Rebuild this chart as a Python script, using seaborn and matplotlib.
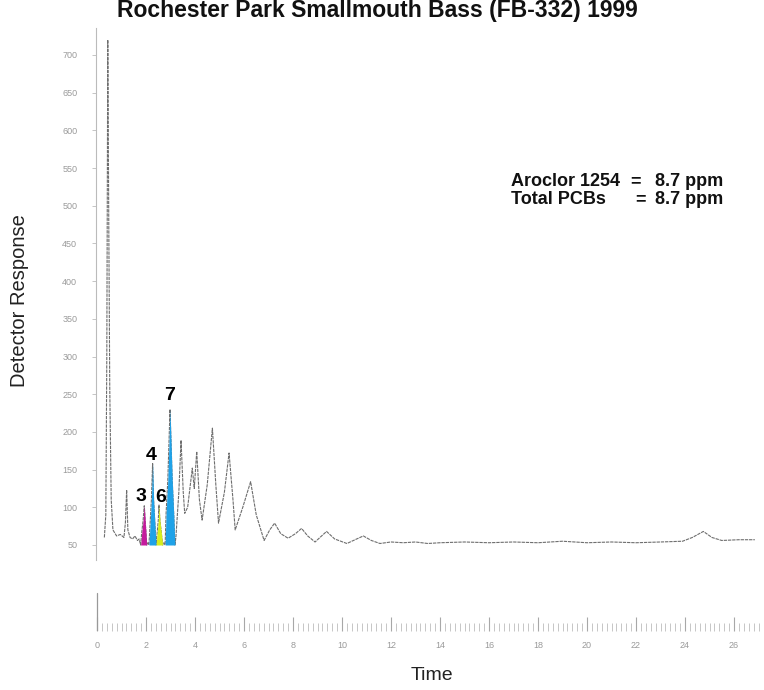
import numpy as np
import pandas as pd
import matplotlib
matplotlib.use("Agg")
import matplotlib.pyplot as plt
import seaborn as sns

# ---------------- data ----------------
trace_time = [0.30, 0.36, 0.40, 0.44, 0.48, 0.52, 0.58, 0.65, 0.80, 0.95, 1.10, 1.16,
              1.21, 1.26, 1.35, 1.45, 1.55, 1.65, 1.72,
              1.78, 1.83, 1.88, 1.93, 1.97, 2.00, 2.03, 2.08,
              2.12, 2.17, 2.22, 2.27, 2.31, 2.36, 2.41,
              2.46, 2.50, 2.53, 2.57, 2.62, 2.68, 2.73,
              2.78, 2.82, 2.89, 2.98, 3.07, 3.13, 3.18,
              3.22, 3.34, 3.43, 3.52, 3.58, 3.70, 3.89, 3.97, 4.07, 4.18,
              4.29, 4.50, 4.71, 4.85, 4.96, 5.20, 5.39, 5.55, 5.64, 5.95, 6.27, 6.50,
              6.82, 7.05, 7.25, 7.50, 7.80, 8.10, 8.35, 8.60, 8.90, 9.10, 9.37, 9.70,
              10.20, 10.60, 10.87, 11.20, 11.55, 12.0, 12.5, 13.0, 13.5, 14.0, 15.0,
              16.0, 17.0, 18.0, 19.0, 20.0, 21.0, 22.0, 23.0, 23.9, 24.3, 24.75, 25.1,
              25.5, 26.2, 26.85]
trace_resp = [60, 90, 300, 720, 480, 260, 110, 70, 62, 64, 60, 80,
              123, 70, 60, 58, 62, 56, 58,
              50, 68, 82, 102, 80, 66, 50, 53,
              50, 80, 110, 158, 110, 80, 50,
              68, 82, 103, 82, 68, 50, 53,
              50, 92, 136, 230, 136, 92, 50,
              60, 120, 189, 120, 92, 100, 152, 125, 174, 110,
              83, 130, 205, 130, 79, 120, 172, 110, 70, 100, 134, 90,
              56, 70, 79, 65, 59, 65, 72, 62, 54, 60, 68, 58,
              52, 58, 62, 56, 52, 54, 53, 54, 52, 53, 54,
              53, 54, 53, 55, 53, 54, 53, 54, 55, 60, 68, 60,
              56, 57, 57]

peak_labels = ["3", "4", "6", "7"]
peak_start = [1.78, 2.12, 2.41, 2.78]
peak_end = [2.03, 2.41, 2.68, 3.18]
peak_apex = [1.93, 2.27, 2.53, 2.98]
peak_height = [102, 158, 103, 230]
peak_colors = ["#C41A9C", "#1FA2E8", "#D6EE1E", "#1FA2E8"]

y_ticks = list(range(50, 701, 50))
x_ticks = list(range(0, 27, 2))

title = "Rochester Park Smallmouth Bass (FB-332) 1999"
note_names = ["Aroclor 1254", "Total PCBs"]
note_values = ["8.7 ppm", "8.7 ppm"]

# ---------------- figure ----------------
sns.set_theme(style="white")
plt.rcParams["font.family"] = ["Liberation Sans", "DejaVu Sans"]

W, H = 764, 690
fig = plt.figure(figsize=(W / 100, H / 100), dpi=100)
ax = fig.add_axes([96 / W, 1 - 631 / H, (760 - 96) / W, (631 - 28) / H])

df = pd.DataFrame({"time": trace_time, "resp": trace_resp})
sns.lineplot(data=df, x="time", y="resp", ax=ax, color="#6e6e6e", lw=0.8,
             estimator=None, sort=False, dashes=False)
ax.lines[0].set_dashes((3, 0.8))

t = np.array(trace_time)
r = np.array(trace_resp)
for s, e, c in zip(peak_start, peak_end, peak_colors):
    m = (t >= s) & (t <= e)
    ax.fill_between(t[m], 50, r[m], color=c, lw=0, zorder=3)

offsets = [(-2.2, 3.7), (-1.2, 2.6), (1.2, 2.2), (0, 6.7)]
for lab, xa, ya, off in zip(peak_labels, peak_apex, peak_height, offsets):
    ax.annotate(lab, (xa, ya), xytext=off, textcoords="offset points",
                ha="center", va="baseline", fontsize=14, fontweight="bold",
                color="black", zorder=5)

ax.set_xlim(-1 / 24.5, (760 - 97) / 24.5)
ax.set_ylim(50 - 86 / 0.754, 50 + 517 / 0.754)

for sp in ["top", "right", "bottom"]:
    ax.spines[sp].set_visible(False)
ax.spines["left"].set_color("#bbbbbb")
ax.spines["left"].set_linewidth(0.8)
ax.spines["left"].set_bounds(30, 50 + 517 / 0.754)

ax.set_yticks(y_ticks)
ax.set_yticklabels([str(v) for v in y_ticks])
ax.tick_params(axis="y", which="major", direction="out", length=3, width=0.6,
               color="#bbbbbb", labelsize=6.5, labelcolor="#9a9a9a", pad=10.5, left=True)

ax.set_xticks(x_ticks)
ax.set_xticklabels([str(v) for v in x_ticks])
ax.set_xticks(np.arange(0, 27.01, 0.2), minor=True)
ax.tick_params(axis="x", which="major", direction="in", length=10, width=0.8,
               color="#a8a8a8", labelsize=6.5, labelcolor="#9a9a9a", pad=7, bottom=True)
ax.tick_params(axis="x", which="minor", direction="in", length=6, width=0.6,
               color="#bdbdbd", bottom=True)
ax.axvline(0, ymin=0, ymax=38 / 603, color="#999999", lw=0.9)

ax.set_xlabel("")
ax.set_ylabel("")
ax.grid(False)

fig.text(377.5 / W, 1 - 17 / H, title, ha="center", va="baseline",
         fontsize=16.5, fontweight="bold", color="#111111")
fig.text(20 / W, 1 - 301 / H, "Detector Response", rotation=90, ha="center",
         va="center", fontsize=14.5, color="#222222")
fig.text(432 / W, 1 - 675 / H, "Time", ha="center", va="center",
         fontsize=14, color="#222222")

for i, (nm, val) in enumerate(zip(note_names, note_values)):
    yb = 1 - (186 + i * 18.5) / H
    fig.text(511 / W, yb, nm, ha="left", va="baseline", fontsize=13,
             fontweight="bold", color="#111111")
    fig.text((630 + i * 5) / W, yb, "=", ha="left", va="baseline", fontsize=13,
             fontweight="bold", color="#111111")
    fig.text(655 / W, yb, val, ha="left", va="baseline", fontsize=13,
             fontweight="bold", color="#111111")

fig.savefig("out.png", dpi=100)
